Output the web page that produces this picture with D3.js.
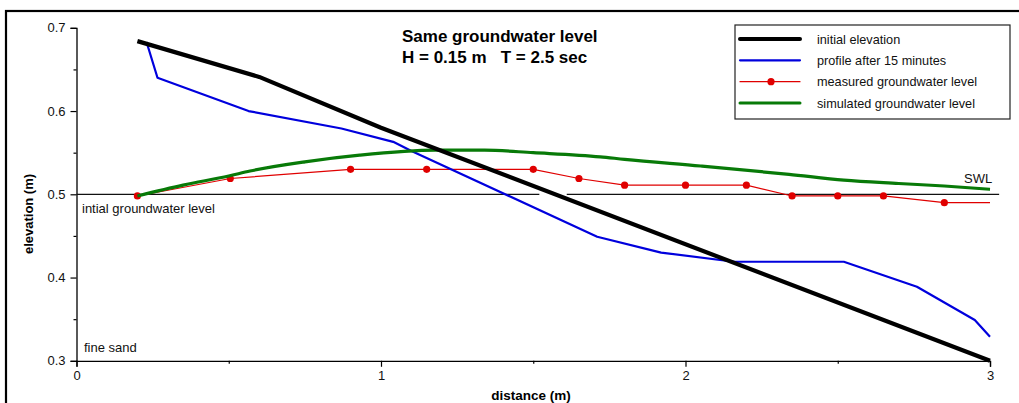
<!DOCTYPE html>
<html>
<head>
<meta charset="utf-8">
<script src="https://cdn.jsdelivr.net/npm/d3@7"></script>
<style>
  html, body { margin: 0; padding: 0; background: #fff; }
  svg { display: block; font-family: "Liberation Sans", Arial, Helvetica, sans-serif; }
</style>
</head>
<body>
<svg id="chart" width="1019" height="403"></svg>
<script>
// Beach profile and groundwater data (distance in m, elevation in m)
const initialElevation = [
  [0.20, 0.684], [0.60, 0.641], [1.00, 0.580], [3.00, 0.300]
];
const profileAfter15 = [
  [0.23, 0.683], [0.266, 0.640], [0.565, 0.600], [0.87, 0.579], [1.04, 0.563],
  [1.10, 0.552], [1.71, 0.449], [1.92, 0.430], [2.16, 0.419], [2.52, 0.419],
  [2.76, 0.389], [2.95, 0.349], [3.00, 0.329]
];
const measuredGW = [
  [0.20, 0.498], [0.505, 0.519], [0.90, 0.530], [1.15, 0.530], [1.50, 0.530],
  [1.65, 0.519], [1.80, 0.511], [2.00, 0.511], [2.20, 0.511], [2.35, 0.498],
  [2.50, 0.498], [2.65, 0.498], [2.85, 0.490]
];
const measuredGWEnd = [[2.85, 0.490], [3.00, 0.490]];
const simulatedGW = [
  [0.20, 0.498], [0.35, 0.511], [0.50, 0.522], [0.57, 0.528], [0.75, 0.539],
  [0.93, 0.547], [1.18, 0.553], [1.34, 0.553], [1.50, 0.550], [1.72, 0.545],
  [1.80, 0.542], [2.05, 0.534], [2.34, 0.524], [2.52, 0.517], [2.70, 0.513],
  [2.85, 0.510], [3.00, 0.506]
];
const initialGWLine = [[0.0, 0.5], [1.52, 0.5]];
const swlLine = [[1.61, 0.5], [3.03, 0.5]];

const xTicks = [0, 1, 2, 3];
const xMinor = [0.5, 1.5, 2.5];
const yTicks = [0.3, 0.4, 0.5, 0.6, 0.7];
const yMinor = [0.35, 0.45, 0.55, 0.65];

const legendItems = [
  { label: "initial elevation", color: "#000000", width: 4, dot: false },
  { label: "profile after 15 minutes", color: "#0000dd", width: 2.2, dot: false },
  { label: "measured groundwater level", color: "#e00000", width: 1.2, dot: true },
  { label: "simulated groundwater level", color: "#087a08", width: 3, dot: false }
];

const svg = d3.select("#chart");

// outer frame
svg.append("rect")
  .attr("x", 6).attr("y", 11).attr("width", 1100).attr("height", 500)
  .attr("fill", "none").attr("stroke", "#000").attr("stroke-width", 2.2);

const plotLeft = 76.5, plotRight = 990, plotTop = 27.8, plotBottom = 360.8;
const x = d3.scaleLinear().domain([0, 3]).range([plotLeft, plotRight]);
const y = d3.scaleLinear().domain([0.3, 0.7]).range([plotBottom, plotTop]);

const line = d3.line().x(d => x(d[0])).y(d => y(d[1]));
const smooth = d3.line().x(d => x(d[0])).y(d => y(d[1])).curve(d3.curveMonotoneX);

// axes
const xAxis = svg.append("g").attr("transform", `translate(0,${plotBottom})`)
  .call(d3.axisBottom(x).tickValues(xTicks).tickFormat(d3.format("d")).tickSize(6).tickPadding(4));
const xMinorG = svg.append("g").attr("transform", `translate(0,${plotBottom})`)
  .call(d3.axisBottom(x).tickValues(xMinor).tickSize(3).tickFormat(""));
const yAxis = svg.append("g").attr("transform", `translate(${plotLeft},0)`)
  .call(d3.axisLeft(y).tickValues(yTicks).tickFormat(d3.format(".1f")).tickSize(6).tickPadding(5));
const yMinorG = svg.append("g").attr("transform", `translate(${plotLeft},0)`)
  .call(d3.axisLeft(y).tickValues(yMinor).tickSize(3).tickFormat(""));

[xAxis, xMinorG, yAxis, yMinorG].forEach(g => {
  g.selectAll(".domain").attr("stroke", "#000").attr("stroke-width", 1.3);
  g.selectAll(".tick line").attr("stroke", "#000").attr("stroke-width", 1.2);
  g.selectAll("text").attr("font-size", 13).attr("fill", "#111")
    .attr("font-family", "'Liberation Sans', Arial, sans-serif");
});
xMinorG.select(".domain").remove();
yMinorG.select(".domain").remove();

// axis titles
svg.append("text").attr("x", 531).attr("y", 400).attr("text-anchor", "middle")
  .attr("font-size", 13.5).attr("font-weight", "bold").text("distance (m)");
svg.append("text").attr("transform", "translate(33,214) rotate(-90)")
  .attr("text-anchor", "middle").attr("font-size", 13).attr("font-weight", "bold")
  .text("elevation (m)");

// groundwater reference lines
svg.append("path").datum(initialGWLine).attr("d", line)
  .attr("fill", "none").attr("stroke", "#111").attr("stroke-width", 1.3);
svg.append("path").datum(swlLine).attr("d", line)
  .attr("fill", "none").attr("stroke", "#111").attr("stroke-width", 1.3);

// annotations
svg.append("text").attr("x", 82).attr("y", 213).attr("font-size", 13).attr("fill", "#111")
  .text("intial groundwater level");
svg.append("text").attr("x", 84).attr("y", 352).attr("font-size", 13).attr("fill", "#111")
  .text("fine sand");
svg.append("text").attr("x", 964).attr("y", 183).attr("font-size", 13).attr("fill", "#111")
  .text("SWL");

// series
svg.append("path").datum(measuredGW).attr("d", line)
  .attr("fill", "none").attr("stroke", "#e00000").attr("stroke-width", 1.2);
svg.append("path").datum(measuredGWEnd).attr("d", line)
  .attr("fill", "none").attr("stroke", "#e00000").attr("stroke-width", 1.2);
svg.append("g").selectAll("circle").data(measuredGW).join("circle")
  .attr("cx", d => x(d[0])).attr("cy", d => y(d[1])).attr("r", 3.6)
  .attr("fill", "#e00000");

svg.append("path").datum(profileAfter15).attr("d", line)
  .attr("fill", "none").attr("stroke", "#0000dd").attr("stroke-width", 2.2)
  .attr("stroke-linejoin", "round");

svg.append("path").datum(simulatedGW).attr("d", smooth)
  .attr("fill", "none").attr("stroke", "#087a08").attr("stroke-width", 3.2);

svg.append("path").datum(initialElevation).attr("d", line)
  .attr("fill", "none").attr("stroke", "#000").attr("stroke-width", 4.2)
  .attr("stroke-linejoin", "round");

// title
const title = svg.append("text").attr("x", 402).attr("font-size", 17)
  .attr("font-weight", "bold").attr("fill", "#000");
title.append("tspan").attr("x", 402).attr("y", 42).text("Same groundwater level");
title.append("tspan").attr("x", 402).attr("y", 63)
  .style("white-space", "pre").text("H = 0.15 m   T = 2.5 sec");

// legend
const lg = svg.append("g");
lg.append("rect").attr("x", 735).attr("y", 25).attr("width", 275).attr("height", 94)
  .attr("fill", "#fff").attr("stroke", "#222").attr("stroke-width", 1.2);
const ly = d3.scalePoint().domain(legendItems.map(d => d.label)).range([39, 103]);
const rows = lg.selectAll("g.item").data(legendItems).join("g")
  .attr("class", "item").attr("transform", d => `translate(0,${ly(d.label)})`);
rows.append("line").attr("x1", 740).attr("x2", 800).attr("y1", 0).attr("y2", 0)
  .attr("stroke", d => d.color).attr("stroke-width", d => d.width)
  .attr("stroke-linecap", "round");
rows.filter(d => d.dot).append("circle").attr("cx", 771).attr("cy", 0).attr("r", 3.6)
  .attr("fill", d => d.color);
rows.append("text").attr("x", 817).attr("y", 4.5).attr("font-size", 12.7).attr("fill", "#111")
  .text(d => d.label);
</script>
</body>
</html>
